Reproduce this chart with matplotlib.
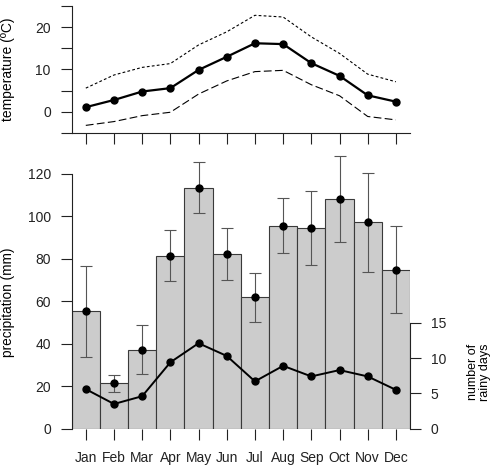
import numpy as np
import matplotlib
matplotlib.use("Agg")
import matplotlib.pyplot as plt

plt.rcParams['font.family'] = ['Liberation Sans', 'DejaVu Sans']

# data
months = ["Jan", "Feb", "Mar", "Apr", "May", "Jun",
          "Jul", "Aug", "Sep", "Oct", "Nov", "Dec"]
temp_mean = [1.1, 2.8, 4.8, 5.6, 9.9, 13.0, 16.2, 16.0, 11.5, 8.5, 3.9, 2.4]
temp_max = [5.6, 8.7, 10.5, 11.4, 15.8, 18.9, 22.8, 22.4, 17.7, 13.8, 8.9, 7.1]
temp_min = [-3.2, -2.3, -0.9, -0.1, 4.2, 7.3, 9.5, 9.8, 6.4, 3.8, -1.1, -1.9]
precip = [55.2, 21.4, 37.0, 81.5, 113.4, 82.3, 61.8, 95.5, 94.6, 108.1, 97.1, 74.8]
precip_low = [33.9, 17.1, 25.6, 69.5, 101.4, 70.1, 50.1, 82.5, 77.2, 87.9, 73.6, 54.3]
precip_high = [76.4, 25.3, 48.7, 93.4, 125.5, 94.6, 73.4, 108.6, 111.9, 128.5, 120.2, 95.2]
rainy_days = [5.6, 3.5, 4.6, 9.4, 12.1, 10.3, 6.7, 8.9, 7.4, 8.3, 7.4, 5.5]

x = np.arange(1, len(months) + 1)
p = np.array(precip)
yerr = [p - np.array(precip_low), np.array(precip_high) - p]

W, H = 499, 471
fig = plt.figure(figsize=(W / 100, H / 100), dpi=100)
left, right = 71.7, 410.0
ax1 = fig.add_axes([left / W, 1 - 133 / H, (right - left) / W, 127 / H])
ax2 = fig.add_axes([left / W, 1 - 428.7 / H, (right - left) / W, 276.2 / H])
ax3 = ax2.twinx()

tick_kw = dict(direction='out', length=8, width=0.8, labelsize=10, pad=7, colors='#222222')
lab_x = (15 - left) / (right - left)

# temperature panel
ax1.plot(x, temp_max, color='black', lw=0.8, ls=(0, (2.5, 2)))
ax1.plot(x, temp_min, color='black', lw=0.8, ls=(0, (7, 3)))
ax1.plot(x, temp_mean, 'o-', color='black', lw=1.6, ms=5)
ax1.set_xlim(0.5, 12.5)
ax1.set_ylim(-5, 25)
ax1.set_yticks(range(-5, 26, 5))
ax1.set_yticklabels(["", "0", "", "10", "", "20", ""])
ax1.set_xticks(x)
ax1.set_xticklabels([])
ax1.tick_params(**tick_kw)
for s in ['top', 'right']:
    ax1.spines[s].set_visible(False)
for s in ['left', 'bottom']:
    ax1.spines[s].set_linewidth(0.8)
    ax1.spines[s].set_color('#222222')
ax1.set_ylabel("temperature (ºC)", fontsize=10)
ax1.yaxis.set_label_coords(lab_x, 0.5)

# precipitation panel
ax2.bar(x, precip, width=1, color='#cccccc', edgecolor='#3a3a3a', lw=0.8)
ax2.errorbar(x, precip, yerr=yerr, fmt='o', color='black', ms=5,
             ecolor='#555555', elinewidth=0.8, capsize=4.3, capthick=0.8)
ax2.set_xlim(0.5, 12.5)
ax2.set_ylim(0, 130)
ax2.set_yticks(range(0, 121, 20))
ax2.set_xticks(x)
ax2.set_xticklabels(months)
ax2.tick_params(**tick_kw)
ax2.tick_params(axis='x', pad=8)
for s in ['top', 'right', 'bottom']:
    ax2.spines[s].set_visible(False)
ax2.spines['left'].set_bounds(0, 120)
ax2.spines['left'].set_linewidth(0.8)
ax2.spines['left'].set_color('#222222')
ax2.set_ylabel("precipitation (mm)", fontsize=9.8)
ax2.yaxis.set_label_coords(lab_x, (428.7 - 302.5) / 276.2)

# rainy days on the right axis
ax3.plot(x, rainy_days, 'o-', color='black', lw=1.4, ms=5)
ax3.set_ylim(0, 39.1)
ax3.set_yticks([0, 5, 10, 15])
ax3.tick_params(**tick_kw)
for s in ['top', 'left', 'bottom']:
    ax3.spines[s].set_visible(False)
ax3.spines['right'].set_bounds(0, 15)
ax3.spines['right'].set_linewidth(0.8)
ax3.spines['right'].set_color('#222222')
fig.text(479 / W, 1 - 372 / H, "number of\nrainy days", rotation=90,
         ha='center', va='center', fontsize=9, linespacing=0.95)

fig.savefig("out.png", dpi=100)
